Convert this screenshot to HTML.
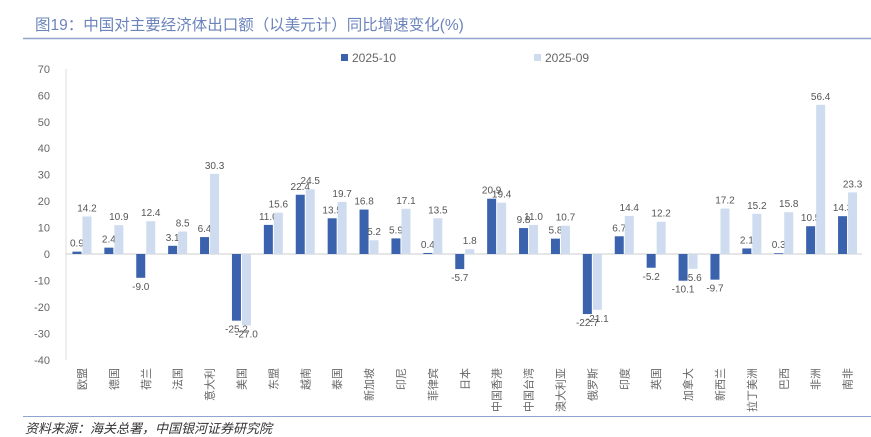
<!DOCTYPE html>
<html><head><meta charset="utf-8"><style>
body{margin:0;background:#fff;width:871px;height:437px;overflow:hidden;font-family:"Liberation Sans","Noto Sans CJK SC",sans-serif}
svg{display:block}
</style></head><body>
<svg id="c" width="871" height="437">
<text x="35" y="30" font-size="15.5" fill="#6b84bb" font-family="Liberation Sans,Noto Sans CJK SC,sans-serif">图19：中国对主要经济体出口额（以美元计）同比增速变化(%)</text>
<line x1="23" y1="38.5" x2="871" y2="38.5" stroke="#8fa5cf" stroke-width="1.5"/>
<g>
<rect x="341" y="54" width="7" height="7" fill="#3a62ad"/>
<text x="352" y="62" font-size="12" fill="#666">2025-10</text>
<rect x="534" y="54" width="7" height="7" fill="#cfdcf0"/>
<text x="545" y="62" font-size="12" fill="#666">2025-09</text>
</g>
<g id="plot"></g>
<line x1="23" y1="416.5" x2="871" y2="416.5" stroke="#8fa5cf" stroke-width="1"/>
<text x="25" y="433" font-size="13" font-style="italic" fill="#333">资料来源：海关总署，中国银河证券研究院</text>
</svg>
<script>
const categories=["欧盟","德国","荷兰","法国","意大利","美国","东盟","越南","泰国","新加坡","印尼","菲律宾","日本","中国香港","中国台湾","澳大利亚","俄罗斯","印度","英国","加拿大","新西兰","拉丁美洲","巴西","非洲","南非"];
const oct=[0.9,2.4,-9.0,3.1,6.4,-25.2,11.0,22.4,13.5,16.8,5.9,0.4,-5.7,20.9,9.8,5.8,-22.7,6.7,-5.2,-10.1,-9.7,2.1,0.3,10.5,14.3];
const sep=[14.2,10.9,12.4,8.5,30.3,-27.0,15.6,24.5,19.7,5.2,17.1,13.5,1.8,19.4,11.0,10.7,-21.1,14.4,12.2,-5.6,17.2,15.2,15.8,56.4,23.3];
const yTicks=[70,60,50,40,30,20,10,0,-10,-20,-30,-40];
const NS="http://www.w3.org/2000/svg";
const g=document.getElementById('plot');
const x0=66,step=31.9,bw=9;
function y(v){return 254-v*2.645;}
function xc(i){return x0+step*(i+0.5);}
function mk(t,a){const e=document.createElementNS(NS,t);for(const k in a)e.setAttribute(k,a[k]);g.appendChild(e);return e;}
yTicks.forEach(t=>{const e=mk('text',{x:50,y:y(t)+4,'font-size':11,fill:'#666','text-anchor':'end'});e.textContent=t;

});
let ax=mk('line',{x1:x0,y1:y(70),x2:x0,y2:y(-40),stroke:'#ddd'});


let zx=mk('line',{x1:x0,y1:y(0),x2:862,y2:y(0),stroke:'#ccc'});


categories.forEach((c,i)=>{
 const cx=xc(i);
 [[oct[i],'#3a62ad',cx-bw-0.5,'bar-2025-10'],[sep[i],'#cfdcf0',cx+0.5,'bar-2025-09']].forEach(([v,col,bx,nm])=>{
  const r=mk('rect',{x:bx,y:Math.min(y(v),y(0)),width:bw,height:Math.abs(y(v)-y(0)),fill:col});
  
  
  const ty=v>=0?y(v)-5:y(v)+12;
  const l=mk('text',{x:bx+bw/2,y:ty,'font-size':10,fill:'#555','text-anchor':'middle'});
  l.textContent=v.toFixed(1);
  
  
 });
 const t=mk('text',{transform:`translate(${cx+4},368) rotate(-90)`,'font-size':11,fill:'#666','text-anchor':'end'});
 t.textContent=c;
 
 
});
</script>
</body></html>
